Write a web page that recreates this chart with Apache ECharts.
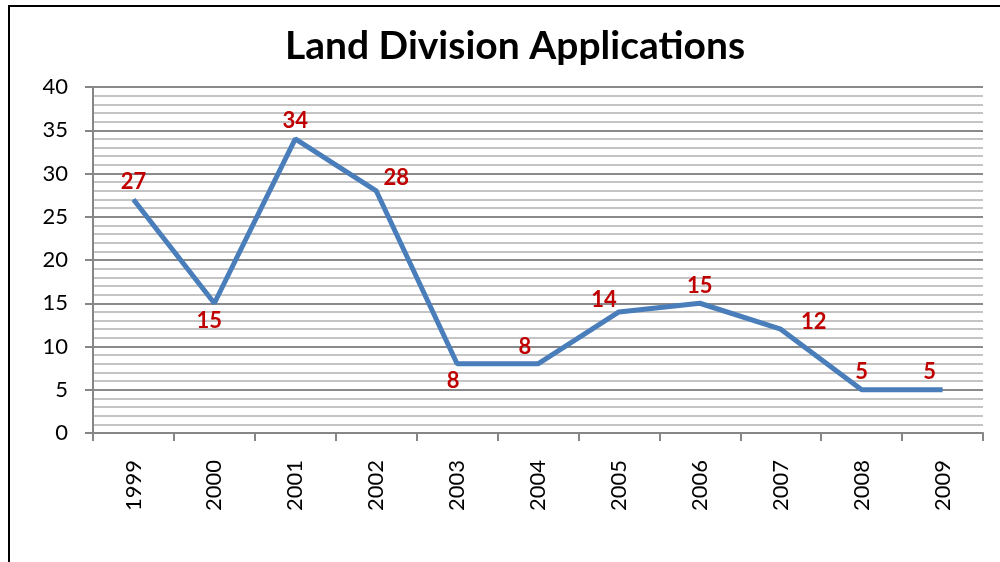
<!DOCTYPE html>
<html><head><meta charset="utf-8">
<script src="https://cdn.jsdelivr.net/npm/echarts@6/dist/echarts.min.js"></script>
<style>html,body{margin:0;padding:0;background:#fff}#c{width:1000px;height:562px}</style>
</head><body><div id="c"></div>
<script>
const categories = ['1999','2000','2001','2002','2003','2004','2005','2006','2007','2008','2009'];
const applications = [27, 15, 34, 28, 8, 8, 14, 15, 12, 5, 5];
const yTicks = [0, 5, 10, 15, 20, 25, 30, 35, 40];
const labelOffsets = [[0,-18],[-5,18],[0,-18],[20,-13],[-4,17],[-13,-17],[-15,-12],[0,-17],[33,-7],[0,-18],[-13,-18]];

const chart = echarts.init(document.getElementById('c'));
const FONT = 'Lato, "Open Sans", sans-serif';
chart.setOption({
  animation: false,
  backgroundColor: '#fff',
  title: {
    text: 'Land Division Applications',
    left: 510, top: 22, textAlign: 'center',
    textStyle: { fontFamily: FONT, fontWeight: 'bold', fontSize: 39, color: '#000' }
  },
  graphic: [{
    type: 'rect', shape: { x: 9, y: 6, width: 1010, height: 600 },
    style: { fill: 'none', stroke: '#000', lineWidth: 2 }, silent: true, z: 100
  }],
  grid: { left: 93, right: 17, top: 87, bottom: 129 },
  xAxis: {
    type: 'category', data: categories, boundaryGap: true,
    axisLine: { lineStyle: { color: '#868686', width: 2 } },
    axisTick: { show: true, length: 8, alignWithLabel: false, lineStyle: { color: '#868686', width: 2 } },
    axisLabel: { rotate: 90, margin: 27, fontFamily: FONT, fontSize: 22, color: '#000' }
  },
  yAxis: {
    type: 'value', min: yTicks[0], max: yTicks[yTicks.length - 1], interval: 5,
    axisLine: { show: true, lineStyle: { color: '#868686', width: 2 } },
    axisTick: { show: true, length: 8, lineStyle: { color: '#868686', width: 2 } },
    axisLabel: { margin: 25, fontFamily: FONT, fontSize: 22, color: '#000' },
    splitLine: { show: true, lineStyle: { color: '#8a8a8a', width: 2 } },
    minorTick: { show: false, splitNumber: 5 },
    minorSplitLine: { show: true, lineStyle: { color: '#c4c4c4', width: 2 } }
  },
  series: [{
    type: 'line', data: applications.map((v, i) => ({
      value: v,
      label: { offset: labelOffsets[i] }
    })),
    symbol: 'circle', symbolSize: 1,
    itemStyle: { color: '#4A7EBB' },
    lineStyle: { color: '#4A7EBB', width: 5 },
    label: {
      show: true, position: 'inside', color: '#C00000',
      fontFamily: FONT, fontWeight: 'bold', fontSize: 22
    }
  }]
});
</script></body></html>
